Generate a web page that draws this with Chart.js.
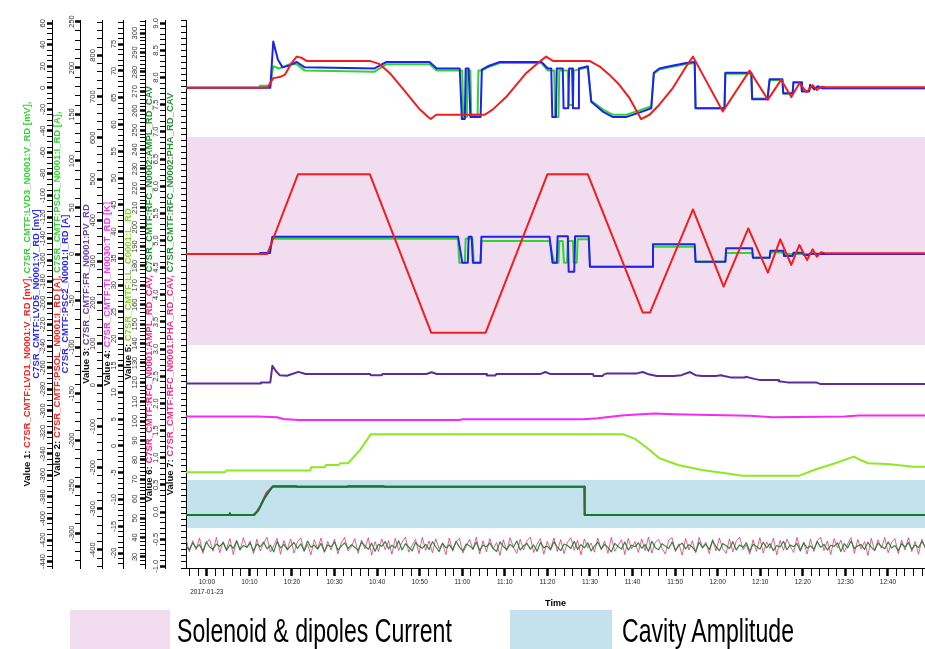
<!DOCTYPE html>
<html>
<head>
<meta charset="utf-8">
<script src="https://cdn.jsdelivr.net/npm/chart.js@4.4.1/dist/chart.umd.min.js"></script>
<style>
  html, body { margin: 0; padding: 0; background: #fff; }
  #wrap { position: relative; width: 925px; height: 649px; overflow: hidden; }
  #chart { position: absolute; left: 0; top: 0; }
  .key { position: absolute; top: 610px; height: 39px; }
  .keytext { position: absolute; top: 611px; font: 33px "Liberation Sans", Arial, sans-serif; line-height: 40px;
             color: #000; transform: scaleX(0.7); transform-origin: left top; white-space: nowrap; }
</style>
</head>
<body>
<div id="wrap">
  <canvas id="chart" width="925" height="649"></canvas>
  <div class="key" style="left:70px;width:100px;background:#f1dcf0"></div>
  <div class="keytext" style="left:177px">Solenoid &amp; dipoles Current</div>
  <div class="key" style="left:510px;width:102px;background:#c3e2ee"></div>
  <div class="keytext" style="left:622px">Cavity Amplitude</div>
</div>
<script>
// x = minutes after 10:00, 2017-01-23
const X_MIN = -4.9, X_MAX = 168.7;
const DATE_LABEL = '2017-01-23';

// y axes, left to right
const AXES = [
  { id: 'y1', min: -446,   max: 63,    major: 20,  minor: 5,   dec: 0 },
  { id: 'y2', min: -337.6, max: 251.6, major: 50,  minor: 10,  dec: 0 },
  { id: 'y3', min: -444,   max: 886,   major: 100, minor: 20,  dec: 0 },
  { id: 'y4', min: -22.8,  max: 79.5,  major: 5,   minor: 1,   dec: 0 },
  { id: 'y5', min: 24.3,   max: 306.8, major: 10,  minor: 2,   dec: 0 },
  { id: 'y6', min: -1.03,  max: 9.06,  major: 0.5, minor: 0.1, dec: 1 },
  { id: 'y7', min: -183,   max: 8914,  major: 500, minor: 100, dec: 0 },
];

// shaded regions (y2 = currents, y6 = cavity amplitude)
const BAND_SOLENOID = [-97.8, 125.8];
const BAND_CAVITY = [-0.295, 0.59];

// Value 1 [mV]
const LVD1 = [[-4.9,0],[13.1,0],[14.3,0.5],[15.6,9],[17.1,10],[18.3,12],[19.9,23],[21.1,29],[22.2,28],[23.4,25],[38.3,25],[40.6,22],[43.0,13.6],[46.9,-5],[50.0,-20],[52.0,-27],[52.6,-29],[53.9,-25],[65.3,-25],[67.2,-20],[70.3,-8.6],[75.0,13.6],[78.2,24.4],[79.7,29],[81.3,25],[89.9,25],[92.3,19.8],[94.6,12],[96.9,2.8],[99.3,-9.6],[102.0,-29],[104.0,-25],[106.3,-15.7],[109.5,0],[112.6,19.8],[114.2,29],[121.2,-22],[127.5,16],[131.8,-11],[134.9,7.4],[137.3,-8.6],[139.2,4.3],[140.9,-4],[142.3,2.5],[143.3,-2],[144.3,1],[145.5,0.6],[168.7,0.6]];
const LVD3 = [[-4.9,0],[12.3,0],[12.5,2],[14.9,2],[15.6,20],[17.0,18],[19.5,22],[21.1,22],[23.0,16],[39.4,15],[42.2,22],[52.3,22],[54.0,16],[60.0,16],[60.2,-27],[60.9,-27],[61.1,16],[61.9,16],[62.1,-25],[63.6,-25],[63.8,16],[64.6,16],[66.0,19],[68.8,23],[78.6,23],[80.1,16],[81.6,16],[81.8,-27],[82.6,-27],[82.8,16],[84.8,16],[85.0,-16],[86.0,-16],[86.2,16],[89.5,19],[90.3,-12],[93.0,-20],[95.3,-25],[98.6,-25],[101.6,-21],[104.4,-17],[105.0,13],[106.3,17],[108.7,19],[112.6,22],[114.6,23],[114.8,-19],[121.6,-19],[121.8,13],[127.9,13],[128.1,-10],[131.7,-10],[132.2,7],[135.2,7],[135.4,-5.5],[137.6,-5.5],[137.8,5.5],[139.6,5.5],[139.8,-3],[141.5,-3],[141.7,2],[142.7,-1],[143.5,1],[144.6,-0.3],[168.7,-0.3]];
const LVD5 = [[-4.9,0],[14.9,0],[15.6,43],[16.7,26],[17.8,19],[19.5,21],[21.1,24],[23.0,19],[39.4,18],[42.2,24],[52.3,24],[54.0,18],[59.4,18],[59.9,-29],[60.6,-29],[60.8,18],[61.5,18],[61.9,-27],[64.3,-27],[64.6,17],[66.0,20],[68.8,24],[78.6,24],[80.1,18],[80.9,18],[81.15,-27],[82.0,-27],[82.2,18],[83.6,18],[83.8,-19],[84.9,-19],[85.1,18],[85.8,18],[86.0,-19],[87.2,-19],[87.4,18],[89.5,20],[90.3,-13],[93.0,-22],[95.3,-27],[98.6,-27],[101.6,-23],[104.4,-19],[105.0,14],[106.3,18],[108.7,20],[112.6,23],[114.6,24],[114.8,-19],[121.6,-19],[121.8,14],[127.9,14],[128.1,-10.5],[131.7,-10.5],[132.2,8],[135.2,8],[135.4,-5],[137.6,-5],[137.8,5],[139.6,5],[139.8,-3.4],[141.5,-3.4],[141.7,2.8],[142.7,-1.5],[143.5,1.5],[144.6,-0.5],[168.7,-0.5]];

// Value 2 [A]
const PSOL = [[-4.9,0],[14.2,0],[21.4,85.7],[38.3,85.7],[52.7,-84.6],[65.5,-84.6],[80.0,85.7],[89.5,85.7],[102.4,-63],[104.1,-63],[114.2,48],[121.4,-35],[127.2,27.6],[131.8,-20],[134.7,15.8],[137.3,-11.8],[139.2,9.7],[141.0,-6.5],[142.3,5],[143.3,-2.9],[144.3,2],[145.5,0.7],[168.7,0.7]];
const PSC1 = [[-4.9,0],[12.4,0],[12.5,1],[14.8,1],[15.4,16.5],[59.0,16.5],[59.3,-9.3],[60.6,-9.3],[60.8,16.5],[62.4,16.5],[62.7,-9.3],[64.3,-9.3],[64.5,14],[80.5,14],[81.6,-9.3],[82.6,-9.3],[82.8,14],[83.6,14],[83.9,-9.3],[84.6,-9.3],[84.8,14],[86.0,14],[86.2,-9.3],[86.9,-9.3],[87.1,16],[89.7,16],[90.0,-13.6],[104.6,-13.6],[104.8,7.9],[114.6,7.9],[114.8,-8.2],[121.8,-8.2],[122.0,1],[128.1,1],[128.3,-4],[132.2,-4],[132.4,1.5],[135.4,1.5],[135.6,0],[168.7,0]];
const PSC2 = [[-4.9,0],[12.4,0],[12.5,1],[14.8,1],[15.4,18.6],[59.0,18.6],[60.0,-9.3],[61.3,-9.3],[61.5,18.6],[62.2,18.6],[62.5,-9.3],[64.3,-9.3],[64.5,18.6],[80.5,18.6],[81.2,-9.3],[82.2,-9.3],[82.4,19],[84.8,19],[85.0,-19],[86.3,-19],[86.5,19],[89.7,19],[90.0,-13.6],[104.6,-13.6],[104.8,10.4],[114.6,10.4],[114.8,-8.2],[121.8,-8.2],[122.0,6.1],[128.1,6.1],[128.3,-4],[132.2,-4],[132.4,3.6],[135.4,3.6],[135.6,-2.2],[137.6,-2.2],[137.8,1.4],[140.0,1.4],[140.2,-1],[141.5,-1],[141.7,0.5],[144.7,0],[168.7,0]];

// Value 3
const FR = [[-4.9,4],[12.6,4],[12.7,6.5],[14.9,6.5],[15.4,47],[16.2,34],[17.1,24],[18.8,22.6],[21.5,32],[23.2,27],[38.3,27],[38.5,24],[41.1,24],[41.3,27],[51.6,27],[52.8,31],[54.0,27],[65.6,27],[65.8,23.5],[67.8,23.5],[68.0,27],[78.4,27],[79.5,31.6],[80.6,27],[90.7,27],[90.9,21.8],[92.9,21.8],[93.3,26],[94.0,28.3],[101.0,28.3],[102.4,31.6],[103.8,26],[105.7,21.8],[109.6,21.8],[111.5,24],[113.5,31.6],[114.8,24],[116.3,21.8],[119.5,21.8],[120.8,24],[121.5,21.8],[123.0,18.6],[126.4,18.6],[126.6,20],[128.6,15],[130.0,12],[134.2,12],[134.4,9],[136.4,6.5],[143.1,6.5],[144.2,2.4],[168.7,2.4]];

// Value 4 [K]
const TI = [[-4.9,5.47],[12.0,5.47],[16.5,5.35],[18.0,5.0],[21.5,4.85],[59.5,4.85],[60.0,4.97],[88.4,4.97],[91.8,5.16],[97.4,5.66],[101.0,5.85],[105.2,6.03],[109.6,5.91],[127.5,5.6],[133.0,5.35],[149.8,5.47],[153.1,5.66],[168.7,5.66]];

// Value 5
const LL = [[-4.9,73.7],[4.3,73.7],[4.5,74.5],[24.3,74.5],[24.5,76.2],[27.7,76.2],[28.0,77.4],[31.0,77.4],[31.3,78.3],[33.2,78.3],[36.0,85.2],[38.5,93.2],[97.9,93.2],[100.7,90.7],[103.5,86.0],[106.3,80.9],[110.7,77.4],[116.3,74.8],[121.9,73.1],[125.8,71.9],[139.2,71.9],[143.1,75.2],[147.6,78.3],[152.0,81.7],[153.0,80.5],[155.4,78.3],[159.8,77.9],[166.0,76.5],[168.7,76.5]];

// Value 6
const AMPL1 = [[-4.9,-0.055],[11.2,-0.055],[12.5,0.1],[14.0,0.35],[15.6,0.48],[21.0,0.48],[21.2,0.466],[33.0,0.466],[33.2,0.48],[41.5,0.48],[41.7,0.466],[88.7,0.466],[88.75,-0.055],[168.7,-0.055]];
const AMPL2 = [[-4.9,-0.055],[5.2,-0.055],[5.4,-0.02],[5.6,-0.055],[10.9,-0.055],[12.0,0.02],[13.5,0.25],[15.4,0.466],[88.7,0.466],[88.75,-0.055],[168.7,-0.055]];

// Value 7 (phase), sampled every NOISE_DT minutes from NOISE_T0
const NOISE_T0 = -4.9, NOISE_DT = 0.793;
const PHA1 = [
  300,85,270,120,315,60,240,290,95,325, 70,255,130,305,40,280,110,320,150,265,
  55,295,100,230,330,80,185,310,45,275, 125,300,65,250,320,90,210,35,285,140,
  315,75,260,115,295,50,235,325,100,170, 305,60,280,135,320,30,255,90,300,120,
  270,45,310,105,245,330,80,195,290,55, 325,110,265,70,300,140,225,40,315,95,
  250,310,65,180,295,120,330,50,270,85, 305,130,240,25,285,100,320,160,60,295,
  115,270,330,75,210,305,45,260,135,315, 90,290,55,245,320,110,275,35,300,150,
  230,80,315,120,265,60,325,95,190,285, 40,310,130,255,75,300,105,330,65,240,
  295,145,50,280,320,90,220,30,305,115, 270,70,325,160,245,55,290,100,315,135,
  60,300,85,260,330,120,200,45,285,95, 320,65,250,140,310,35,275,110,295,180,
  75,325,125,235,50,300,90,270,330,105, 265,40,305,150,280,80,215,320,60,290,
  130,255,25,310,100,285,145,325,70,240, 305,55,280,115,320,90,260,45,295,135];
const PHA2 = [
  180,120,235,150,205,95,250,165,130,215, 175,240,110,200,145,260,125,190,160,230,
  100,215,170,245,135,195,85,255,150,210, 120,185,240,140,220,105,265,160,195,130,
  225,90,200,170,250,115,180,235,140,205, 160,110,245,185,125,230,95,210,175,255,
  135,195,150,270,115,220,165,100,240,180, 145,210,125,255,170,90,230,150,200,120,
  260,160,105,215,185,135,245,110,195,170, 230,140,90,250,175,125,210,160,265,115,
  185,225,130,200,95,240,155,180,120,250, 165,105,215,190,140,260,125,205,150,235,
  100,180,245,135,210,160,85,225,175,130, 250,115,195,170,235,145,205,95,260,155,
  120,220,180,140,250,110,190,230,135,205, 165,90,245,150,215,125,270,170,105,225,
  185,140,255,115,200,160,235,95,210,175, 130,245,150,220,105,190,165,260,120,200,
  170,225,100,240,145,185,130,255,160,210, 115,195,175,235,90,220,150,265,140,185,
  205,125,245,160,110,230,175,135,250,150, 190,105,220,165,240,130,200,155,260,175];

// ---- styling / layout ----
const COL = {
  red: '#f41c1c', green: '#2fd62f', blue: '#2020f0', purple: '#5c2c98', magenta: '#f52af5',
  lime: '#8ee822', dkgreen: '#137a26', pink: '#e8237d'
};
const TXT = {
  black: '#111', red: '#ff2020', green: '#30d830', blue: '#2a2aff', purple: '#7040b0',
  magenta: '#ff30ff', lime: '#80dc20', pink: '#ff2a8a', dkgreen: '#1f9a2f'
};
const TITLES = [
  [[['Value 1: ', 'black'], ['C7SR_CMTF:LVD1_N0001:V_RD [mV], ', 'red'], ['C7SR_CMTF:LVD3_N0001:V_RD [mV],', 'green']],
   [['C7SR_CMTF:LVD5_N0001:V_RD [mV]', 'blue']]],
  [[['Value 2: ', 'black'], ['C7SR_CMTF:PSOL_N0001:I_RD [A], ', 'red'], ['C7SR_CMTF:PSC1_N0001:I_RD [A],', 'green']],
   [['C7SR_CMTF:PSC2_N0001:I_RD [A]', 'blue']]],
  [[['Value 3: ', 'black'], ['C7SR_CMTF:FR_N0001:PV_RD', 'purple']]],
  [[['Value 4: ', 'black'], ['C7SR_CMTF:TI_N0030:T_RD [K]', 'magenta']]],
  [[['Value 5: ', 'black'], ['C7SR_CMTF:LL_C0001:L_RD', 'lime']]],
  [[['Value 6: ', 'black'], ['C7SR_CMTF:RFC_N0001:AMPL_RD_CAV, ', 'pink'], ['C7SR_CMTF:RFC_N0002:AMPL_RD_CAV', 'dkgreen']]],
  [[['Value 7: ', 'black'], ['C7SR_CMTF:RFC_N0001:PHA_RD_CAV, ', 'pink'], ['C7SR_CMTF:RFC_N0002:PHA_RD_CAV', 'dkgreen']]],
];
const AXIS_WIDTH = [34, 28, 22, 21, 22, 20, 21];
const LABEL_OFFSET = [9.5, 8, 9, 9, 10, 9, 9];
const TITLE_OFFSET = [[-25, -16], [-23, -15], [-16], [-16], [-17], [-16], [-16]];
const TICK_LEN = 5;
const FAMILY = '"Liberation Sans", Arial, sans-serif';
const TICK_FONT = { family: FAMILY, size: 7.5 };

const isMajor = (v, step) => Math.abs(v / step - Math.round(v / step)) < 1e-6;
const fmt = (v, a) => (Math.abs(v) < 1e-9 ? 0 : v).toFixed(a.dec);

const mctx = document.createElement('canvas').getContext('2d');
function widestLabel(a) {
  mctx.font = TICK_FONT.size + 'px ' + TICK_FONT.family;
  let w = 0;
  const first = Math.ceil(a.min / a.major);
  const last = Math.floor(a.max / a.major);
  for (let k = first; k <= last; k++) w = Math.max(w, mctx.measureText(fmt(k * a.major, a)).width);
  return w;
}

function yAxis(a, i) {
  return {
    type: 'linear', position: 'left', weight: AXES.length - i,
    min: a.min, max: a.max,
    afterFit: s => { s.width = AXIS_WIDTH[i]; },
    border: { display: true, color: '#000', width: 1 },
    grid: {
      drawOnChartArea: false, tickLength: TICK_LEN, tickColor: '#000',
      tickWidth: c => (c.tick && isMajor(c.tick.value, a.major) ? 2.5 : 1)
    },
    ticks: {
      stepSize: a.minor, maxTicksLimit: 1000, autoSkip: false, includeBounds: false,
      minRotation: 90, maxRotation: 90, crossAlign: 'center',
      padding: LABEL_OFFSET[i] - TICK_LEN - widestLabel(a) / 2,
      color: '#333', font: TICK_FONT,
      callback: v => (isMajor(v, a.major) ? fmt(v, a) : '')
    }
  };
}

function timeLabel(v) {
  if (v % 10 !== 0) return '';
  const m = 600 + v;
  const s = Math.floor(m / 60) + ':' + String(m % 60).padStart(2, '0');
  return v === 0 ? [s, DATE_LABEL] : s;
}

const pts = arr => arr.map(([x, y]) => ({ x, y }));
const noise = arr => arr.map((y, i) => ({ x: NOISE_T0 + i * NOISE_DT, y }));
const ds = (label, data, axis, color, width, order) => ({
  label, data, yAxisID: axis, borderColor: color, borderWidth: width,
  pointRadius: 0, tension: 0, fill: false, order, borderJoinStyle: 'round'
});

const scales = { x: {
  type: 'linear', position: 'bottom', min: X_MIN, max: X_MAX,
  afterFit: s => { s.height = 45; },
  border: { display: true, color: '#000', width: 1 },
  grid: { drawOnChartArea: false, tickLength: 8, tickColor: '#000',
          tickWidth: c => (c.tick && c.tick.value % 10 === 0 ? 2.5 : 1) },
  ticks: {
    stepSize: 2, maxTicksLimit: 1000, autoSkip: false, includeBounds: false,
    minRotation: 0, maxRotation: 0, padding: 1, color: '#222',
    font: { family: '"Liberation Sans Narrow", ' + FAMILY, size: 6.5, lineHeight: 10 / 6.5 },
    callback: timeLabel
  },
  title: { display: true, text: 'Time', color: '#000',
           font: { family: FAMILY, size: 9, weight: 'bold' }, padding: { top: 2, bottom: 4 } }
} };
AXES.forEach((a, i) => { scales[a.id] = yAxis(a, i); });

const bandsPlugin = {
  id: 'bands',
  beforeDatasetsDraw(chart) {
    const { ctx, chartArea: ca, scales: s } = chart;
    const draw = (axis, range, color) => {
      const y1 = s[axis].getPixelForValue(range[1]);
      const y0 = s[axis].getPixelForValue(range[0]);
      ctx.fillStyle = color;
      ctx.fillRect(ca.left + 1, y1, ca.right - ca.left - 1, y0 - y1);
    };
    ctx.save();
    draw('y2', BAND_SOLENOID, '#f1dcf0');
    draw('y6', BAND_CAVITY, '#c3e2ee');
    ctx.restore();
  }
};

const titlesPlugin = {
  id: 'axisTitles',
  afterDraw(chart) {
    const ctx = chart.ctx;
    ctx.save();
    ctx.font = 'bold 9.5px ' + FAMILY;
    ctx.textBaseline = 'middle';
    ctx.textAlign = 'left';
    AXES.forEach((a, i) => {
      const s = chart.scales[a.id];
      const cy = (s.top + s.bottom) / 2;
      TITLES[i].forEach((segs, j) => {
        const total = segs.reduce((w, [t]) => w + ctx.measureText(t).width, 0);
        ctx.save();
        ctx.translate(s.right + TITLE_OFFSET[i][j], cy);
        ctx.rotate(-Math.PI / 2);
        let pos = -total / 2;
        segs.forEach(([t, c]) => {
          ctx.fillStyle = TXT[c];
          ctx.fillText(t, pos, 0);
          pos += ctx.measureText(t).width;
        });
        ctx.restore();
      });
    });
    ctx.restore();
  }
};

new Chart(document.getElementById('chart'), {
  type: 'line',
  data: {
    datasets: [
      ds('C7SR_CMTF:LVD1_N0001:V_RD', pts(LVD1), 'y1', COL.red, 2, 1),
      ds('C7SR_CMTF:LVD5_N0001:V_RD', pts(LVD5), 'y1', COL.blue, 2, 2),
      ds('C7SR_CMTF:LVD3_N0001:V_RD', pts(LVD3), 'y1', COL.green, 2, 3),
      ds('C7SR_CMTF:PSOL_N0001:I_RD', pts(PSOL), 'y2', COL.red, 2, 1),
      ds('C7SR_CMTF:PSC2_N0001:I_RD', pts(PSC2), 'y2', COL.blue, 2, 2),
      ds('C7SR_CMTF:PSC1_N0001:I_RD', pts(PSC1), 'y2', COL.green, 2, 3),
      ds('C7SR_CMTF:FR_N0001:PV_RD', pts(FR), 'y3', COL.purple, 2, 1),
      ds('C7SR_CMTF:TI_N0030:T_RD', pts(TI), 'y4', COL.magenta, 2, 1),
      ds('C7SR_CMTF:LL_C0001:L_RD', pts(LL), 'y5', COL.lime, 2, 1),
      ds('C7SR_CMTF:RFC_N0002:AMPL_RD_CAV', pts(AMPL2), 'y6', COL.dkgreen, 2, 1),
      ds('C7SR_CMTF:RFC_N0001:AMPL_RD_CAV', pts(AMPL1), 'y6', COL.pink, 2, 2),
      ds('C7SR_CMTF:RFC_N0002:PHA_RD_CAV', noise(PHA2), 'y7', 'rgba(19,128,30,0.9)', 1.2, 1),
      ds('C7SR_CMTF:RFC_N0001:PHA_RD_CAV', noise(PHA1), 'y7', 'rgba(232,35,125,0.75)', 1, 2),
    ]
  },
  options: {
    responsive: false,
    devicePixelRatio: 1,
    animation: false,
    layout: { padding: { left: 18, top: 20, right: 0, bottom: 36 } },
    plugins: { legend: { display: false }, tooltip: { enabled: false } },
    scales
  },
  plugins: [bandsPlugin, titlesPlugin]
});
</script>
</body>
</html>
